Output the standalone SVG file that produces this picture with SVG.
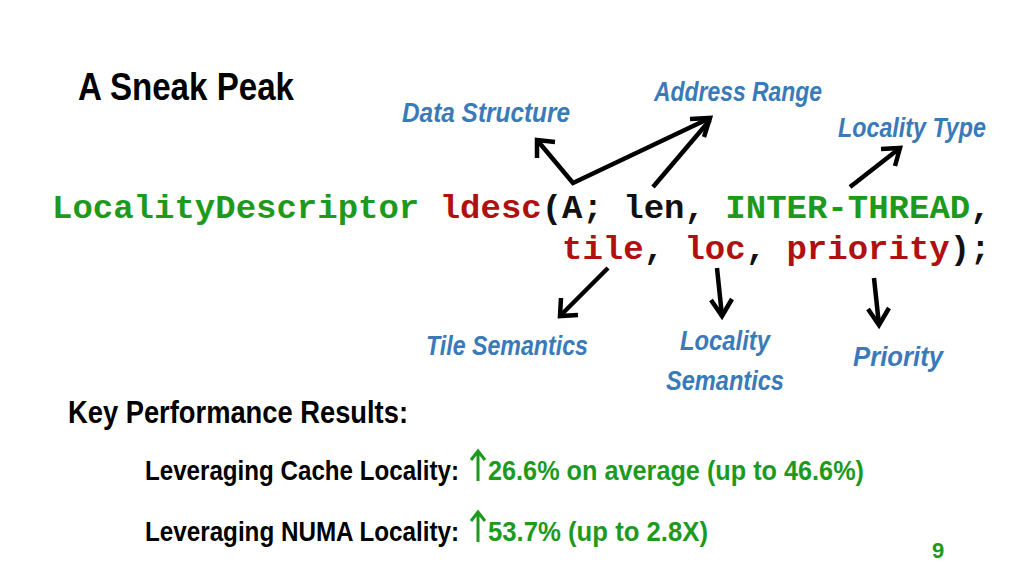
<svg xmlns="http://www.w3.org/2000/svg" width="1024" height="576" viewBox="0 0 1024 576">
<style>
.h{font-family:"Liberation Sans",sans-serif;font-weight:bold}
.lbl{font-family:"Liberation Sans",sans-serif;font-weight:bold;font-style:italic;fill:#3a7ab8;font-size:27px}
.code{font-family:"Liberation Mono",monospace;font-weight:bold;font-size:34px;fill:#111}
.g{fill:#1d9a1d}.r{fill:#b01010}
.ar{fill:none;stroke:#000;stroke-width:4.5;stroke-linecap:butt;stroke-linejoin:miter}
.up{fill:none;stroke:#1d9a1d;stroke-width:3}
</style>
<rect width="1024" height="576" fill="#fff"/>
<text class="h" x="78" y="100" font-size="38" textLength="216" lengthAdjust="spacingAndGlyphs">A Sneak Peak</text>
<g id="labels">
<text class="lbl" x="402" y="122" textLength="168" lengthAdjust="spacingAndGlyphs">Data Structure</text>
<text class="lbl" x="654" y="101" textLength="168" lengthAdjust="spacingAndGlyphs">Address Range</text>
<text class="lbl" x="838" y="137" textLength="148" lengthAdjust="spacingAndGlyphs">Locality Type</text>
<text class="lbl" x="426" y="355" textLength="162" lengthAdjust="spacingAndGlyphs">Tile Semantics</text>
<text class="lbl" x="680" y="350" textLength="90" lengthAdjust="spacingAndGlyphs">Locality</text>
<text class="lbl" x="666" y="390" textLength="118" lengthAdjust="spacingAndGlyphs">Semantics</text>
<text class="lbl" x="853" y="366" textLength="90" lengthAdjust="spacingAndGlyphs">Priority</text>
</g>
<g id="code">
<text class="code" x="52" y="218" xml:space="preserve"><tspan class="g">LocalityDescriptor</tspan> <tspan class="r">ldesc</tspan>(A; len, <tspan class="g">INTER-THREAD</tspan>,</text>
<text class="code" x="562" y="259" xml:space="preserve"><tspan class="r">tile</tspan>, <tspan class="r">loc</tspan>, <tspan class="r">priority</tspan>);</text>
</g>
<g id="connectors">
<polyline class="ar" points="537,140 573,183 710,118"/>
<polyline class="ar" points="537,158 537,140 555,142"/>
<polyline class="ar" points="690,119 710,118 704,137"/>
<line class="ar" x1="653" y1="187" x2="710" y2="120"/>
<line class="ar" x1="850" y1="187" x2="900" y2="148"/>
<polyline class="ar" points="881,149 900,148 895,166"/>
<line class="ar" x1="608" y1="268" x2="560" y2="316"/>
<polyline class="ar" points="561,298 560,316 578,315"/>
<line class="ar" x1="717" y1="268" x2="722" y2="316"/>
<polyline class="ar" points="711,300 722,316 732,299"/>
<line class="ar" x1="874" y1="278" x2="879" y2="325"/>
<polyline class="ar" points="868,309 879,325 889,308"/>
<path class="up" d="M478,481 V452 M471,460 L478,451 L485,460 M478,542 V513 M471,521 L478,512 L485,521"/>
</g>
<g id="results">
<text class="h" x="68" y="423" font-size="32" textLength="340" lengthAdjust="spacingAndGlyphs">Key Performance Results:</text>
<text class="h" x="145" y="480" font-size="27" textLength="314" lengthAdjust="spacingAndGlyphs">Leveraging Cache Locality:</text>
<text class="h g" x="488" y="480" font-size="27" textLength="376" lengthAdjust="spacingAndGlyphs">26.6% on average (up to 46.6%)</text>
<text class="h" x="145" y="541" font-size="27" textLength="314" lengthAdjust="spacingAndGlyphs">Leveraging NUMA Locality:</text>
<text class="h g" x="488" y="541" font-size="27" textLength="220" lengthAdjust="spacingAndGlyphs">53.7% (up to 2.8X)</text>
<text class="h g" x="932" y="558" font-size="22">9</text>
</g>
</svg>
